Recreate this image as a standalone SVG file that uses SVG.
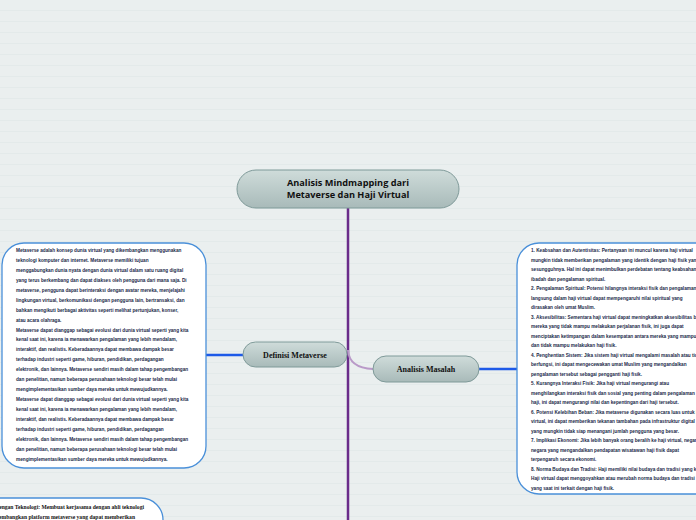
<svg xmlns="http://www.w3.org/2000/svg" width="696" height="520" viewBox="0 0 696 520">
<defs>
<linearGradient id="ng" x1="0" y1="0" x2="0" y2="1"><stop offset="0" stop-color="#cfdcda"/><stop offset="1" stop-color="#a8bab9"/></linearGradient>
<pattern id="lines" width="10" height="11" patternUnits="userSpaceOnUse"><rect width="10" height="11" fill="#eaefef"/><line x1="0" y1="10.5" x2="10" y2="10.5" stroke="#dde5e5" stroke-width="0.6"/></pattern>
</defs>
<style>
.node{fill:url(#ng);stroke:#7f9a99;stroke-width:1}
.box{fill:#fff;stroke:#4a90d9;stroke-width:1.3}
.t{font-family:"Liberation Sans",Arial,sans-serif;font-size:4.7px;font-weight:bold;fill:#1b2a4a}
.lbl{font-family:"Liberation Serif","Times New Roman",serif;font-size:8px;font-weight:bold;fill:#111;text-anchor:middle}
.bl{font-family:"Liberation Serif","Times New Roman",serif;font-size:5.6px;font-weight:bold;fill:#111;text-anchor:end}
.blue{stroke:#1d5ae8;stroke-width:2.5;fill:none}
</style>
<rect width="696" height="520" fill="url(#lines)"/>
<g id="connectors">
<line x1="348" y1="207" x2="348" y2="520" stroke="#6a2c8a" stroke-width="2.5"/>
<path d="M348,350 Q349,368 373,369" stroke="#b99ac8" stroke-width="2" fill="none"/>
<line class="blue" x1="205" y1="355" x2="244" y2="355"/>
<line class="blue" x1="479" y1="369" x2="518" y2="369"/>
</g>
<g id="central">
<rect class="node" x="237" y="170" width="222" height="38" rx="19"/>
<text x="348" y="186" text-anchor="middle" font-family="Open Sans,sans-serif" font-size="9.2" font-weight="bold" fill="#111">Analisis Mindmapping dari</text>
<text x="348" y="198" text-anchor="middle" font-family="Open Sans,sans-serif" font-size="9.2" font-weight="bold" fill="#111">Metaverse dan Haji Virtual</text>
</g>
<g id="definisi">
<rect class="node" x="243" y="342" width="104" height="25" rx="12.5"/>
<text class="lbl" x="295" y="358">Definisi Metaverse</text>
</g>
<g id="masalah">
<rect class="node" x="373" y="356" width="106" height="26" rx="13"/>
<text class="lbl" x="426" y="372">Analisis Masalah</text>
</g>
<g id="definisi-text">
<rect class="box" x="2" y="243" width="204" height="225" rx="22"/>
<text class="t" x="16">
<tspan x="16" y="252">Metaverse adalah konsep dunia virtual yang dikembangkan menggunakan</tspan>
<tspan x="16" y="262">teknologi komputer dan internet. Metaverse memiliki tujuan</tspan>
<tspan x="16" y="272">menggabungkan dunia nyata dengan dunia virtual dalam satu ruang digital</tspan>
<tspan x="16" y="282">yang terus berkembang dan dapat diakses oleh pengguna dari mana saja. Di</tspan>
<tspan x="16" y="292">metaverse, pengguna dapat berinteraksi dengan avatar mereka, menjelajahi</tspan>
<tspan x="16" y="302">lingkungan virtual, berkomunikasi dengan pengguna lain, bertransaksi, dan</tspan>
<tspan x="16" y="312">bahkan mengikuti berbagai aktivitas seperti melihat pertunjukan, konser,</tspan>
<tspan x="16" y="322">atau acara olahraga.</tspan>
<tspan x="16" y="332">Metaverse dapat dianggap sebagai evolusi dari dunia virtual seperti yang kita</tspan>
<tspan x="16" y="341">kenal saat ini, karena ia menawarkan pengalaman yang lebih mendalam,</tspan>
<tspan x="16" y="351">interaktif, dan realistis. Keberadaannya dapat membawa dampak besar</tspan>
<tspan x="16" y="361">terhadap industri seperti game, hiburan, pendidikan, perdagangan</tspan>
<tspan x="16" y="371">elektronik, dan lainnya. Metaverse sendiri masih dalam tahap pengembangan</tspan>
<tspan x="16" y="381">dan penelitian, namun beberapa perusahaan teknologi besar telah mulai</tspan>
<tspan x="16" y="391">mengimplementasikan sumber daya mereka untuk mewujudkannya.</tspan>
<tspan x="16" y="401">Metaverse dapat dianggap sebagai evolusi dari dunia virtual seperti yang kita</tspan>
<tspan x="16" y="411">kenal saat ini, karena ia menawarkan pengalaman yang lebih mendalam,</tspan>
<tspan x="16" y="421">interaktif, dan realistis. Keberadaannya dapat membawa dampak besar</tspan>
<tspan x="16" y="431">terhadap industri seperti game, hiburan, pendidikan, perdagangan</tspan>
<tspan x="16" y="441">elektronik, dan lainnya. Metaverse sendiri masih dalam tahap pengembangan</tspan>
<tspan x="16" y="451">dan penelitian, namun beberapa perusahaan teknologi besar telah mulai</tspan>
<tspan x="16" y="461">mengimplementasikan sumber daya mereka untuk mewujudkannya.</tspan>
</text>
</g>
<g id="masalah-text">
<rect class="box" x="517" y="243" width="200" height="251" rx="22"/>
<text class="t">
<tspan x="531" y="252">1. Keabsahan dan Autentisitas: Pertanyaan ini muncul karena haji virtual</tspan>
<tspan x="531" y="261.5">mungkin tidak memberikan pengalaman yang identik dengan haji fisik yang</tspan>
<tspan x="531" y="271">sesungguhnya. Hal ini dapat menimbulkan perdebatan tentang keabsahan</tspan>
<tspan x="531" y="280.5">ibadah dan pengalaman spiritual.</tspan>
<tspan x="531" y="290">2. Pengalaman Spiritual: Potensi hilangnya interaksi fisik dan pengalaman</tspan>
<tspan x="531" y="299.5">langsung dalam haji virtual dapat mempengaruhi nilai spiritual yang</tspan>
<tspan x="531" y="309">dirasakan oleh umat Muslim.</tspan>
<tspan x="531" y="318.5">3. Aksesibilitas: Sementara haji virtual dapat meningkatkan aksesibilitas bagi</tspan>
<tspan x="531" y="328">mereka yang tidak mampu melakukan perjalanan fisik, ini juga dapat</tspan>
<tspan x="531" y="337.5">menciptakan ketimpangan dalam kesempatan antara mereka yang mampu</tspan>
<tspan x="531" y="347">dan tidak mampu melakukan haji fisik.</tspan>
<tspan x="531" y="356.5">4. Penghentian Sistem: Jika sistem haji virtual mengalami masalah atau tidak</tspan>
<tspan x="531" y="366">berfungsi, ini dapat mengecewakan umat Muslim yang mengandalkan</tspan>
<tspan x="531" y="375.5">pengalaman tersebut sebagai pengganti haji fisik.</tspan>
<tspan x="531" y="385">5. Kurangnya Interaksi Fisik: Jika haji virtual mengurangi atau</tspan>
<tspan x="531" y="394.5">menghilangkan interaksi fisik dan sosial yang penting dalam pengalaman</tspan>
<tspan x="531" y="404">haji, ini dapat mengurangi nilai dan kepentingan dari haji tersebut.</tspan>
<tspan x="531" y="413.5">6. Potensi Kelebihan Beban: Jika metaverse digunakan secara luas untuk haji</tspan>
<tspan x="531" y="423">virtual, ini dapat memberikan tekanan tambahan pada infrastruktur digital</tspan>
<tspan x="531" y="432.5">yang mungkin tidak siap menangani jumlah pengguna yang besar.</tspan>
<tspan x="531" y="442">7. Implikasi Ekonomi: Jika lebih banyak orang beralih ke haji virtual, negara-</tspan>
<tspan x="531" y="451.5">negara yang mengandalkan pendapatan wisatawan haji fisik dapat</tspan>
<tspan x="531" y="461">terpengaruh secara ekonomi.</tspan>
<tspan x="531" y="470.5">8. Norma Budaya dan Tradisi: Haji memiliki nilai budaya dan tradisi yang kuat.</tspan>
<tspan x="531" y="480">Haji virtual dapat menggoyahkan atau merubah norma budaya dan tradisi</tspan>
<tspan x="531" y="489.5">yang saat ini terkait dengan haji fisik.</tspan>
</text>
</g>
<g id="solusi-text">
<rect class="box" x="-60" y="498" width="223" height="60" rx="22"/>
<text class="bl" x="144" y="509">Kerjasama dengan Teknologi: Membuat kerjasama dengan ahli teknologi</text>
<text class="bl" x="135" y="519">untuk mengembangkan platform metaverse yang dapat memberikan</text>
</g>
</svg>
